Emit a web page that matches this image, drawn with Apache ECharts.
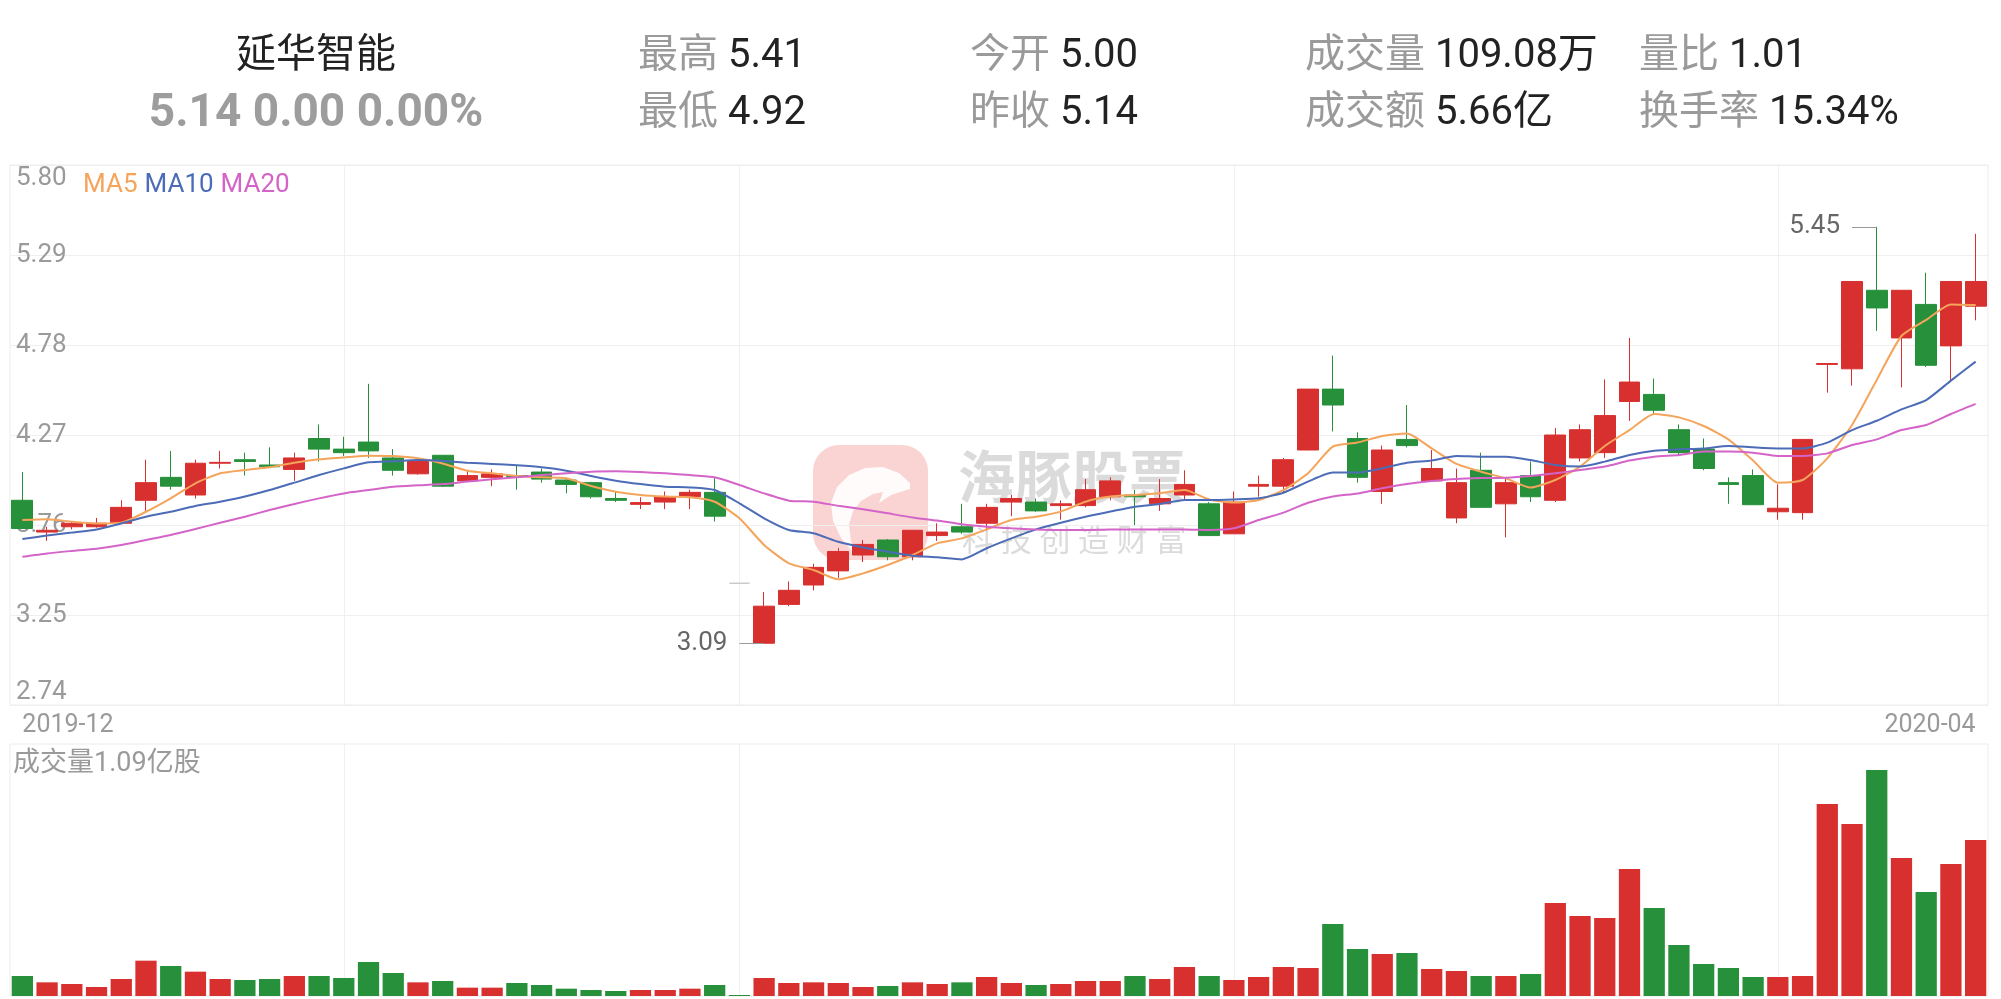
<!DOCTYPE html>
<html><head><meta charset="utf-8">
<script src="https://cdn.jsdelivr.net/npm/echarts@6/dist/echarts.min.js"></script>
<style>html,body{margin:0;padding:0;background:#fff}#c{width:2001px;height:999px}</style>
</head><body><div id="c"></div>
<script>
// ---- data ----
const dates = [
 '2019-12-13','2019-12-16','2019-12-17','2019-12-18','2019-12-19','2019-12-20','2019-12-23','2019-12-24','2019-12-25','2019-12-26','2019-12-27','2019-12-30','2019-12-31',
 '2020-01-02','2020-01-03','2020-01-06','2020-01-07','2020-01-08','2020-01-09','2020-01-10','2020-01-13','2020-01-14','2020-01-15','2020-01-16','2020-01-17','2020-01-20','2020-01-21','2020-01-22','2020-01-23',
 '2020-02-03','2020-02-04','2020-02-05','2020-02-06','2020-02-07','2020-02-10','2020-02-11','2020-02-12','2020-02-13','2020-02-14','2020-02-17','2020-02-18','2020-02-19','2020-02-20','2020-02-21','2020-02-24','2020-02-25','2020-02-26','2020-02-27','2020-02-28',
 '2020-03-02','2020-03-03','2020-03-04','2020-03-05','2020-03-06','2020-03-09','2020-03-10','2020-03-11','2020-03-12','2020-03-13','2020-03-16','2020-03-17','2020-03-18','2020-03-19','2020-03-20','2020-03-23','2020-03-24','2020-03-25','2020-03-26','2020-03-27','2020-03-30','2020-03-31',
 '2020-04-01','2020-04-02','2020-04-03','2020-04-07','2020-04-08','2020-04-09','2020-04-10','2020-04-13','2020-04-14'
];
const opens = [3.90,3.72,3.75,3.75,3.77,3.90,4.03,3.93,4.11,4.13,4.10,4.075,4.25,4.19,4.23,4.14,
 4.05,4.155,4.01,4.03,4.04,4.06,4.015,4.00,3.91,3.877,3.89,3.92,3.945,3.43,3.09,3.31,
 3.42,3.50,3.59,3.675,3.58,3.70,3.75,3.77,3.89,3.89,3.87,3.87,3.92,3.93,3.88,3.93,
 3.88,3.71,3.98,3.98,4.185,4.53,4.25,3.95,4.245,4.01,3.80,4.07,3.88,4.04,3.90,4.14,
 4.17,4.46,4.50,4.30,4.19,4.00,4.04,3.835,3.83,4.67,4.645,5.09,4.82,5.01,4.775,5.00];
const closes = [3.74,3.73,3.77,3.77,3.86,4.00,3.98,4.11,4.115,4.12,4.09,4.14,4.19,4.17,4.18,4.07,
 4.12,3.98,4.04,4.05,4.035,4.02,3.99,3.92,3.90,3.887,3.92,3.945,3.81,3.43,3.30,3.39,
 3.52,3.61,3.65,3.58,3.73,3.72,3.72,3.86,3.91,3.84,3.88,3.96,4.01,3.92,3.91,3.99,
 3.70,3.89,3.99,4.13,4.53,4.44,4.03,4.185,4.21,4.08,4.00,3.86,4.00,3.92,4.27,4.30,
 4.38,4.57,4.41,4.17,4.08,3.99,3.875,3.855,4.245,4.675,5.14,4.99,5.09,4.665,5.14,5.14];
const lows = [3.74,3.67,3.735,3.745,3.765,3.84,3.96,3.91,4.08,4.04,4.09,4.01,4.12,4.15,4.14,4.04,
 4.045,3.975,4.01,3.98,3.96,4.00,3.94,3.91,3.89,3.85,3.85,3.85,3.78,3.43,3.09,3.30,
 3.39,3.46,3.55,3.56,3.56,3.67,3.71,3.73,3.81,3.835,3.79,3.86,3.90,3.76,3.84,3.90,
 3.70,3.71,3.92,3.94,4.185,4.29,4.00,3.88,4.20,4.01,3.77,3.86,3.69,3.89,3.89,4.12,
 4.14,4.35,4.39,4.15,4.07,3.88,3.875,3.79,3.79,4.51,4.55,4.86,4.54,4.655,4.57,4.92];
const highs = [4.06,3.75,3.78,3.80,3.90,4.13,4.18,4.13,4.18,4.17,4.20,4.17,4.33,4.26,4.56,4.19,
 4.13,4.155,4.07,4.075,4.10,4.08,4.02,4.005,3.95,3.917,3.95,3.96,4.03,3.43,3.38,3.44,
 3.54,3.63,3.675,3.68,3.73,3.77,3.88,3.88,3.93,3.91,3.90,4.02,4.03,3.96,4.02,4.07,
 3.89,3.95,4.04,4.14,4.53,4.72,4.285,4.21,4.44,4.185,4.08,4.17,4.03,4.12,4.31,4.33,
 4.585,4.82,4.59,4.33,4.25,4.03,4.075,3.99,4.245,4.675,5.14,5.45,5.09,5.19,5.14,5.41];
// volume in 万股
const volumes = [1398,956,839,629,1189,2471,2098,1701,1189,1119,1189,1398,1398,1259,2377,1608,
 956,1049,583,583,909,769,513,420,350,420,420,513,769,70,1259,909,
 956,909,629,699,956,839,956,1329,909,769,839,1049,1049,1398,1189,2028,
 1398,1119,1329,2028,1958,5035,3286,2937,3007,1888,1748,1398,1398,1538,6503,5594,
 5454,8880,6153,3566,2238,1958,1329,1329,1398,13425,12027,15803,9650,7272,9230,10908];
const ma5 = [3.788,3.792,3.779,3.769,3.773,3.835,3.911,3.996,4.053,4.072,4.087,4.113,4.132,4.143,4.153,4.151,
 4.138,4.109,4.068,4.053,4.038,4.030,4.025,3.981,3.949,3.930,3.921,3.917,3.892,3.798,3.647,3.543,
 3.505,3.452,3.486,3.533,3.590,3.656,3.684,3.735,3.788,3.807,3.836,3.892,3.921,3.930,3.940,3.958,
 3.905,3.887,3.902,3.958,4.053,4.204,4.227,4.264,4.279,4.194,4.106,4.062,4.024,3.972,4.015,4.091,
 4.208,4.298,4.389,4.370,4.321,4.245,4.125,4.000,4.015,4.138,4.327,4.582,4.831,4.922,5.010,5.007];
const ma10 = [3.681,3.700,3.717,3.735,3.769,3.807,3.835,3.868,3.892,3.921,3.958,4.000,4.043,4.081,4.115,4.121,
 4.128,4.123,4.113,4.106,4.098,4.087,4.068,4.038,4.011,3.992,3.977,3.973,3.958,3.883,3.798,3.732,
 3.713,3.665,3.633,3.609,3.586,3.577,3.565,3.628,3.684,3.735,3.773,3.807,3.836,3.864,3.879,3.902,
 3.902,3.905,3.911,3.943,4.006,4.057,4.057,4.081,4.113,4.125,4.151,4.147,4.147,4.128,4.100,4.091,
 4.119,4.157,4.181,4.189,4.194,4.208,4.200,4.194,4.194,4.227,4.298,4.351,4.415,4.468,4.578,4.686];
const ma20 = [3.580,3.599,3.613,3.626,3.647,3.675,3.703,3.737,3.773,3.807,3.845,3.879,3.911,3.939,3.958,3.977,
 3.985,3.992,4.006,4.019,4.030,4.043,4.053,4.062,4.064,4.060,4.053,4.043,4.030,3.987,3.939,3.898,
 3.892,3.869,3.849,3.826,3.803,3.785,3.764,3.750,3.741,3.735,3.732,3.732,3.735,3.735,3.735,3.735,
 3.732,3.741,3.788,3.830,3.886,3.921,3.939,3.968,3.992,4.009,4.021,4.026,4.028,4.038,4.053,4.072,
 4.091,4.125,4.147,4.157,4.176,4.176,4.170,4.151,4.151,4.166,4.213,4.245,4.298,4.327,4.389,4.446];
const priceTicks = [2.74, 3.25, 3.76, 4.27, 4.78, 5.29, 5.80];
const volumeMax = 17620;
const stockName = '延华智能';
const quoteLine = ['5.14', '0.00', '0.00%'];
const headerItems = [['最高','5.41'],['最低','4.92'],['今开','5.00'],['昨收','5.14'],
  ['成交量','109.08万'],['成交额','5.66亿'],['量比','1.01'],['换手率','15.34%']];
const watermark = ['海豚股票', '科 技 创 造 财 富'];

// ---- style ----
const RED = '#d7302f', GREEN = '#27903a';
const C5 = '#f5a45b', C10 = '#4c6cb7', C20 = '#d464c8';
const FONT = 'Roboto, "Noto Sans CJK SC", sans-serif';

const candleData = opens.map((o, i) => [o, closes[i], lows[i], highs[i]]);
const sign = i => closes[i] > opens[i] ? 1 : closes[i] < opens[i] ? -1 : (i > 0 && closes[i] >= closes[i-1] ? 1 : -1);
let minIdx = 0, maxIdx = 0;
lows.forEach((v, i) => { if (v < lows[minIdx]) minIdx = i; });
highs.forEach((v, i) => { if (v > highs[maxIdx]) maxIdx = i; });
const monthStart = new Set();
dates.forEach((d, i) => { if (i > 0 && d.slice(0,7) !== dates[i-1].slice(0,7)) monthStart.add(i); });
const interval = +(priceTicks[1] - priceTicks[0]).toFixed(2);

const headerX = [638, 638, 970, 970, 1305, 1305, 1639, 1639];
const headerY = [57, 114, 57, 114, 57, 114, 57, 114];
const graphics = [
  { type: 'text', x: 316, y: 57, style: { text: stockName, fill: '#222', font: '40px ' + FONT, align: 'center', verticalAlign: 'middle' } },
  { type: 'text', x: 316, y: 114, style: { text: quoteLine.join(' '), fill: '#9d9d9d', font: 'bold 46px ' + FONT, align: 'center', verticalAlign: 'middle' } },
  ...headerItems.map((it, k) => ({
    type: 'text', x: headerX[k], y: headerY[k],
    style: { text: '{l|' + it[0] + '} {v|' + it[1] + '}', font: '40px ' + FONT, verticalAlign: 'middle', align: 'left',
      rich: { l: { fill: '#9a9a9a', font: '40px ' + FONT }, v: { fill: '#222', font: '40px ' + FONT } } }
  })),
  { type: 'text', x: 13, y: 764, style: { text: '成交量' + (volumes[volumes.length-1] / 10000).toFixed(2) + '亿股', fill: '#9a9a9a', font: '27px ' + FONT, verticalAlign: 'middle' } },
  // watermark
  { type: 'group', x: 813, y: 445, z: -10, silent: true, children: [
    { type: 'rect', shape: { x: 0, y: 0, width: 115, height: 115, r: 26 }, style: { fill: 'rgba(243,140,140,0.38)' } },
    { type: 'polygon', shape: { points: [[97,38],[86,28],[70,22],[52,23],[36,30],[24,42],[18,58],[20,76],[28,93],[44,112],[38,96],[36,80],[40,66],[48,56],[60,49],[70,47],[66,58],[78,50],[97,44]] }, style: { fill: 'rgba(255,255,255,0.9)' } }
  ]},
  { type: 'text', x: 958, y: 484, z: -10, silent: true, style: { text: watermark[0], fill: 'rgba(190,190,190,0.55)', font: 'bold 57px ' + FONT, verticalAlign: 'middle' } },
  { type: 'text', x: 962, y: 543, z: -10, silent: true, style: { text: watermark[1], fill: 'rgba(190,190,190,0.55)', font: '31px ' + FONT, verticalAlign: 'middle' } }
];

const chart = echarts.init(document.getElementById('c'), null, { renderer: 'canvas' });
chart.setOption({
  animation: false,
  backgroundColor: '#fff',
  textStyle: { fontFamily: FONT },
  legend: {
    left: 73, top: 167, itemWidth: 0, itemHeight: 0, itemGap: 2, icon: 'rect', selectedMode: false,
    textStyle: { fontSize: 26, fontFamily: FONT },
    data: [{ name: 'MA5', textStyle: { color: C5 } }, { name: 'MA10', textStyle: { color: C10 } }, { name: 'MA20', textStyle: { color: C20 } }]
  },
  grid: [
    { left: 10, right: 13, top: 165, bottom: 294, show: true, borderColor: '#ececec', borderWidth: 1, outerBoundsMode: 'none' },
    { left: 10, right: 13, top: 744, bottom: 3, show: true, borderColor: '#ececec', borderWidth: 1, outerBoundsMode: 'none' }
  ],
  xAxis: [
    { gridIndex: 0, type: 'category', data: dates, boundaryGap: true,
      axisLine: { show: false }, axisTick: { show: false },
      axisLabel: { interval: (i) => i === 0 || i === dates.length - 1, formatter: v => v.slice(0, 7), color: '#9a9a9a', fontSize: 25, margin: 8, alignMinLabel: 'left', alignMaxLabel: 'right', hideOverlap: false },
      splitLine: { show: true, interval: (i) => monthStart.has(i), alignWithLabel: true, lineStyle: { color: '#efefef', width: 1 } } },
    { gridIndex: 1, type: 'category', data: dates, boundaryGap: true,
      axisLine: { show: false }, axisTick: { show: false }, axisLabel: { show: false },
      splitLine: { show: true, interval: (i) => monthStart.has(i), alignWithLabel: true, lineStyle: { color: '#efefef', width: 1 } } }
  ],
  yAxis: [
    { gridIndex: 0, type: 'value', min: priceTicks[0], max: priceTicks[priceTicks.length-1], interval: interval, scale: true,
      axisLine: { show: false }, axisTick: { show: false },
      axisLabel: { inside: true, margin: 6, color: '#9a9a9a', fontSize: 26, formatter: v => v.toFixed(2), verticalAlignMinLabel: 'bottom', verticalAlignMaxLabel: 'top' },
      splitLine: { lineStyle: { color: '#efefef', width: 1 } } },
    { gridIndex: 1, type: 'value', min: 0, max: volumeMax, axisLine: { show: false }, axisTick: { show: false }, axisLabel: { show: false }, splitLine: { show: false } }
  ],
  series: [
    { name: 'K', type: 'candlestick', xAxisIndex: 0, yAxisIndex: 0, data: candleData, barWidth: '86%',
      itemStyle: { color: RED, color0: GREEN, borderColor: RED, borderColor0: GREEN, borderColorDoji: '#c8c8c8', borderWidth: 1 },
      markLine: { symbol: 'none', silent: true, animation: false,
        lineStyle: { color: '#9a9a9a', width: 1, type: 'solid' },
        label: { position: 'start', color: '#666', fontSize: 26, distance: 12, formatter: p => Number(p.value).toFixed(2) },
        data: [
          [{ coord: [dates[minIdx-1], lows[minIdx]], value: lows[minIdx] }, { coord: [dates[minIdx], lows[minIdx]] }],
          [{ coord: [dates[maxIdx-1], highs[maxIdx]], value: highs[maxIdx] }, { coord: [dates[maxIdx], highs[maxIdx]] }]
        ] } },
    { name: 'MA5', type: 'line', data: ma5, symbol: 'none', smooth: 0.2, lineStyle: { width: 2, color: C5 }, itemStyle: { color: C5 } },
    { name: 'MA10', type: 'line', data: ma10, symbol: 'none', smooth: 0.2, lineStyle: { width: 2, color: C10 }, itemStyle: { color: C10 } },
    { name: 'MA20', type: 'line', data: ma20, symbol: 'none', smooth: 0.2, lineStyle: { width: 2, color: C20 }, itemStyle: { color: C20 } },
    { name: 'VOL', type: 'bar', xAxisIndex: 1, yAxisIndex: 1, data: volumes, barWidth: '86%',
      itemStyle: { color: p => sign(p.dataIndex) > 0 ? RED : GREEN } }
  ],
  graphic: graphics
});
</script>
</body></html>
